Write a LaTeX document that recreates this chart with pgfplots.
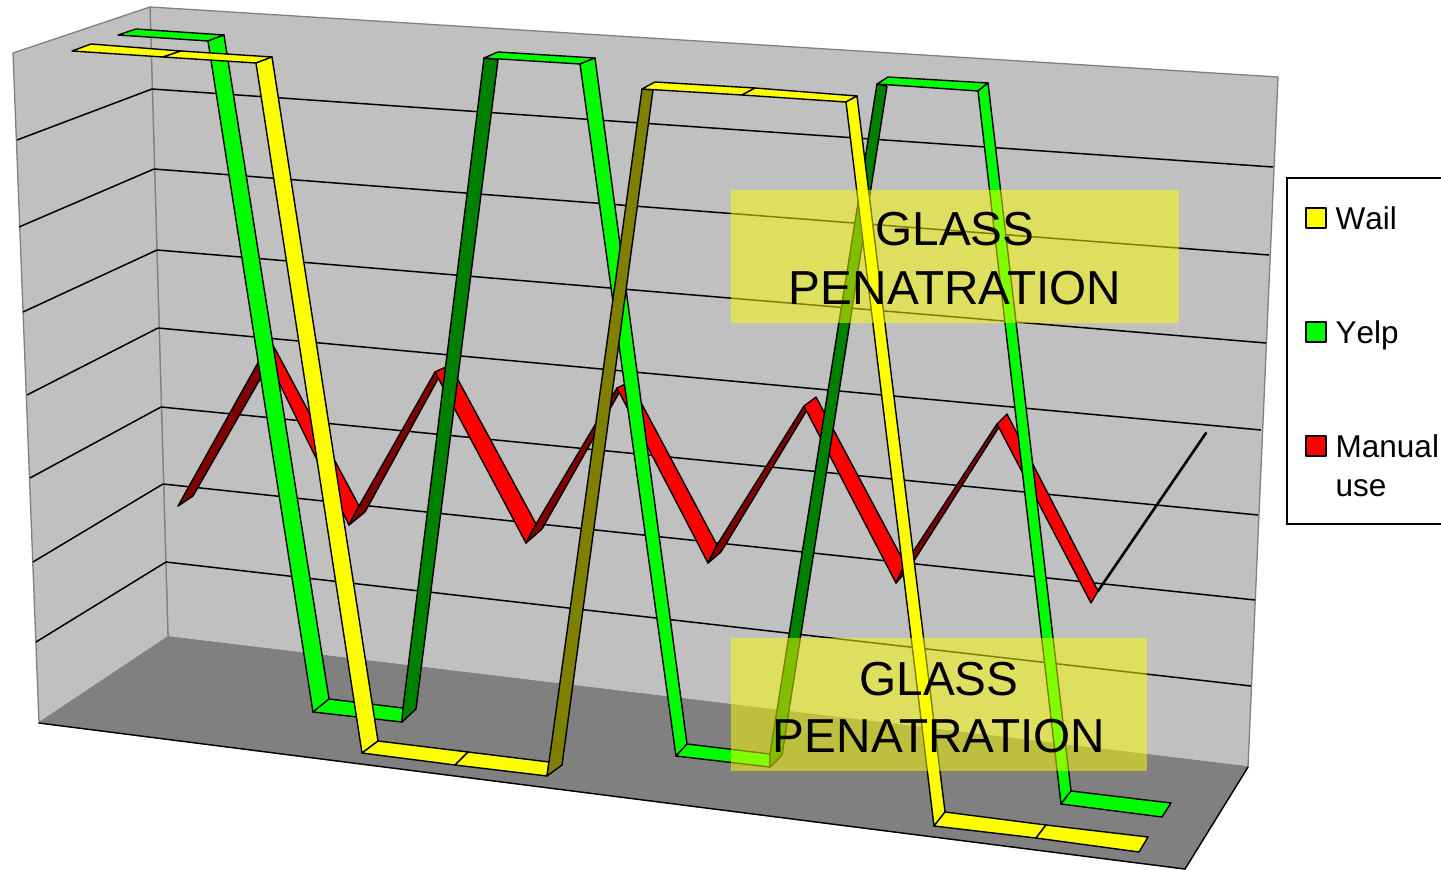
\documentclass[border=0pt]{standalone}
\usepackage{fontspec}
\setmainfont{Liberation Sans}
\usepackage{pgfplots}
\pgfplotsset{compat=1.18}
\definecolor{wallc}{HTML}{C0C0C0}
\definecolor{floorc}{HTML}{808080}
\definecolor{wy}{HTML}{FFFF00}
\definecolor{wyd}{HTML}{808000}
\definecolor{yg}{HTML}{00FF00}
\definecolor{ygd}{HTML}{008000}
\definecolor{mr}{HTML}{FF0000}
\definecolor{mrd}{HTML}{800000}
\pgfplotsset{
  face/.style={draw=black,line width=1.4pt,line join=round,fill=#1},
  grid line/.style={draw=black,line width=1.5pt},
  wall edge/.style={draw=floorc,line width=1.3pt,line join=round,fill=#1},
  glass/.style={draw=none,fill=wy,fill opacity=0.5},
}
\begin{document}
\begin{tikzpicture}
\begin{axis}[hide axis,x=1pt,y=1pt,y dir=reverse,xmin=0,xmax=1441,ymin=0,ymax=870,
  axis line style={draw=none}]
% page
\addplot[draw=none,fill=white] coordinates {(0,0)(1441,0)(1441,870)(0,870)} --cycle;
% walls and floor
\addplot[wall edge=wallc] coordinates {(150,7)(1278,77)(1248,767)(168,637)} --cycle;
\addplot[wall edge=wallc] coordinates {(13,53)(150,7)(168,637)(39,723)} --cycle;
\addplot[draw=floorc,line width=1.2pt,fill=floorc] coordinates {(39,723)(168,637)(1248,767)(1185,869)} --cycle;
\addplot[draw=black,line width=1.4pt] coordinates {(39,723)(1185,869)(1248,767)};
% grid lines, back wall
\addplot[grid line] coordinates {(152,89)(1273,167)};
\addplot[grid line] coordinates {(154,169)(1269,255)};
\addplot[grid line] coordinates {(157,250)(1266,343)};
\addplot[grid line] coordinates {(158,328)(1261,430)};
\addplot[grid line] coordinates {(161,407)(1258,515)};
\addplot[grid line] coordinates {(163,484)(1255,600)};
\addplot[grid line] coordinates {(166,562)(1251,686)};
% grid lines, side wall
\addplot[grid line] coordinates {(17,140)(152,89)};
\addplot[grid line] coordinates {(19,227)(154,169)};
\addplot[grid line] coordinates {(23,312)(157,250)};
\addplot[grid line] coordinates {(27,395)(158,328)};
\addplot[grid line] coordinates {(30,478)(161,407)};
\addplot[grid line] coordinates {(33,562)(163,484)};
\addplot[grid line] coordinates {(36,642)(166,562)};
% Manual use
\addplot[face=mrd] coordinates {(178,506)(193,496)(267,367)(264,352)} --cycle;
\addplot[face=mr] coordinates {(264,352)(274,347)(359,506)(349,525)} --cycle;
\addplot[face=mrd] coordinates {(359,506)(349,525)(365,512)(439,377)(435,372)} --cycle;
\addplot[face=mr] coordinates {(435,372)(450,365)(536,524)(526,543)} --cycle;
\addplot[face=mrd] coordinates {(536,524)(526,543)(542,529)(619,393)(617,388)} --cycle;
\addplot[face=mr] coordinates {(617,388)(630,382)(717,545)(708,563)} --cycle;
\addplot[face=mrd] coordinates {(717,545)(708,563)(721,552)(807,410)(804,406)} --cycle;
\addplot[face=mr] coordinates {(804,406)(816,397)(905,564)(896,583)} --cycle;
\addplot[face=mrd] coordinates {(905,564)(896,583)(910,567)(999,427)(997,424)} --cycle;
\addplot[face=mr] coordinates {(997,424)(1007,414)(1098,591)(1091,603)} --cycle;
\addplot[draw=black,line width=2.6pt,line join=round,fill=mrd] coordinates {(1098,591)(1206,433)} --cycle;
% Yelp
\addplot[face=yg] coordinates {(118,35)(136,29)(224,35)(208,41)} --cycle;
\addplot[face=yg] coordinates {(208,41)(224,35)(329,699)(313,712)} --cycle;
\addplot[face=yg] coordinates {(313,712)(329,699)(403,708)(402,722)} --cycle;
\addplot[face=ygd] coordinates {(403,708)(402,722)(416,709)(498,60)(484,58)} --cycle;
\addplot[face=yg] coordinates {(484,58)(498,52)(595,58)(580,64)} --cycle;
\addplot[face=yg] coordinates {(580,64)(595,58)(687,744)(676,756)} --cycle;
\addplot[face=yg] coordinates {(676,756)(687,744)(770,754)(770,767)} --cycle;
\addplot[face=ygd] coordinates {(770,754)(770,767)(782,755)(887,86)(877,84)} --cycle;
\addplot[face=yg] coordinates {(877,84)(888,77)(988,83)(978,91)} --cycle;
\addplot[face=yg] coordinates {(978,91)(988,83)(1071,791)(1061,804)} --cycle;
\addplot[face=yg] coordinates {(1061,804)(1071,791)(1171,803)(1162,817)} --cycle;
% Wail
\addplot[face=wy] coordinates {(72,51)(91,44)(181,51)(163,57)} --cycle;
\addplot[face=wy] coordinates {(163,57)(181,51)(272,57)(256,63)} --cycle;
\addplot[face=wy] coordinates {(256,63)(272,57)(378,741)(362,753)} --cycle;
\addplot[face=wy] coordinates {(362,753)(378,741)(468,752)(455,765)} --cycle;
\addplot[face=wy] coordinates {(455,765)(468,752)(549,762)(547,776)} --cycle;
\addplot[face=wyd] coordinates {(549,762)(547,776)(562,765)(653,90)(642,89)} --cycle;
\addplot[face=wy] coordinates {(642,89)(655,82)(755,88)(742,95)} --cycle;
\addplot[face=wy] coordinates {(742,95)(755,88)(857,96)(846,102)} --cycle;
\addplot[face=wy] coordinates {(846,102)(857,96)(945,812)(934,826)} --cycle;
\addplot[face=wy] coordinates {(934,826)(945,812)(1046,825)(1036,838)} --cycle;
\addplot[face=wy] coordinates {(1036,838)(1046,825)(1148,837)(1139,852)} --cycle;
% glass penetration boxes
\addplot[glass] coordinates {(731,190)(1179,190)(1179,323)(731,323)} --cycle;
\addplot[glass] coordinates {(731,638)(1147,638)(1147,771)(731,771)} --cycle;
\node[anchor=base,inner sep=0pt,font=\fontsize{47.7}{50}\selectfont] at (axis cs:955,245.5) {GLASS};
\node[anchor=base,inner sep=0pt,font=\fontsize{47.7}{50}\selectfont] at (axis cs:955,304) {PENATRATION};
\node[anchor=base,inner sep=0pt,font=\fontsize{47.7}{50}\selectfont] at (axis cs:939,695) {GLASS};
\node[anchor=base,inner sep=0pt,font=\fontsize{47.7}{50}\selectfont] at (axis cs:939,752) {PENATRATION};
% legend
\addplot[draw=black,line width=1.4pt,fill=white] coordinates {(1287,178)(1445,178)(1445,524)(1287,524)} --cycle;
\addplot[face=wy] coordinates {(1306,208)(1326,208)(1326,228)(1306,228)} --cycle;
\addplot[face=yg] coordinates {(1306,322)(1326,322)(1326,342)(1306,342)} --cycle;
\addplot[face=mr] coordinates {(1306,436)(1326,436)(1326,456)(1306,456)} --cycle;
\node[anchor=base west,inner sep=0pt,font=\fontsize{31.5}{36}\selectfont\addfontfeature{Kerning=Off}] at (axis cs:1335.5,229) {Wail};
\node[anchor=base west,inner sep=0pt,font=\fontsize{31.5}{36}\selectfont\addfontfeature{Kerning=Off}] at (axis cs:1335.5,343) {Yelp};
\node[anchor=base west,inner sep=0pt,font=\fontsize{31.5}{36}\selectfont\addfontfeature{Kerning=Off}] at (axis cs:1335.5,457) {Manual};
\node[anchor=base west,inner sep=0pt,font=\fontsize{31.5}{36}\selectfont\addfontfeature{Kerning=Off}] at (axis cs:1335.5,496) {use};
\end{axis}
\end{tikzpicture}
\end{document}
